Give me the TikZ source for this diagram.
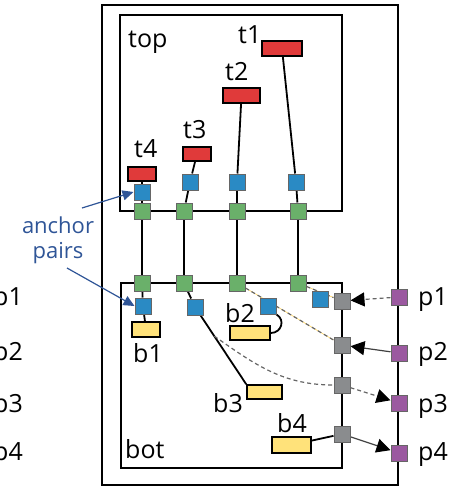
\documentclass[tikz,border=0pt]{standalone}
\usepackage{fontspec}
\setmainfont{Open Sans}
\usetikzlibrary{arrows.meta,backgrounds}

\definecolor{sigred}{HTML}{E03A3A}
\definecolor{sigyellow}{HTML}{FFE27A}
\definecolor{anchblue}{HTML}{2A8AC4}
\definecolor{anchgreen}{HTML}{6AB06A}
\definecolor{portgray}{HTML}{8A8C8E}
\definecolor{portpurple}{HTML}{9B59A0}
\definecolor{noteblue}{HTML}{2F5597}

\tikzset{
  box/.style={draw, line width=2pt},
  sq/.style={draw=black!60, line width=1pt, minimum size=16pt, inner sep=0pt},
  sig/.style={draw, line width=1.6pt, inner sep=0pt, minimum height=14pt},
  lbl/.style={anchor=base west, inner sep=0pt, font=\fontsize{25}{30}\selectfont},
  wire/.style={line width=1.8pt},
  thin wire/.style={line width=1.2pt, draw=black!75},
  dashwire/.style={line width=1.2pt, draw=black!60, dash pattern=on 4pt off 3pt},
  route/.style={dashwire, preaction={draw=sigyellow!90!orange, solid, line width=.7pt}},
  bigtip/.style={-{Triangle[length=14pt,width=14pt,color=black]}},
}

\begin{document}
\begin{tikzpicture}[x=1pt,y=-1pt]
    \useasboundingbox (0,0) rectangle (457,488);

    % hierarchy
    \draw[box] (102,5) rectangle (398,485);
    \draw[box] (120,15) rectangle (342,211);
    \draw[box] (121,283) rectangle (342,468);
    \node[lbl] (top) at (128,47) {top};
    \node[lbl] (bot) at (125,458) {bot};

    % signals of top
    \node[sig, fill=sigred, minimum width=40pt, minimum height=15pt] (t1) at (282,48.5) {};
    \node[sig, fill=sigred, minimum width=37pt, minimum height=15pt] (t2) at (241.5,95.5) {};
    \node[sig, fill=sigred, minimum width=28pt] (t3) at (197,154) {};
    \node[sig, fill=sigred, minimum width=28pt] (t4) at (142,174) {};
    \node[lbl] (lt1) at (238,43) {t1}; \node[lbl] (lt2) at (225,80) {t2};
    \node[lbl] (lt3) at (183,138) {t3}; \node[lbl] (lt4) at (134,157) {t4};

    \node[sq, fill=anchblue] (tb1) at (296,182) {}; \node[sq, fill=anchblue] (tb2) at (237,182) {};
    \node[sq, fill=anchblue] (tb3) at (190,182) {}; \node[sq, fill=anchblue] (tb4) at (142,192) {};
    \node[sq, fill=anchgreen] (tg1) at (298,211) {}; \node[sq, fill=anchgreen] (tg2) at (237,211) {};
    \node[sq, fill=anchgreen] (tg3) at (184,211) {}; \node[sq, fill=anchgreen] (tg4) at (142,211) {};

    % signals of bot
    \node[sq, fill=anchgreen] (bg1) at (298,283) {}; \node[sq, fill=anchgreen] (bg2) at (237,283) {};
    \node[sq, fill=anchgreen] (bg3) at (184,283) {}; \node[sq, fill=anchgreen] (bg4) at (142,283) {};
    \node[sq, fill=anchblue] (bb1) at (143,306) {}; \node[sq, fill=anchblue] (bb3) at (195,307) {};
    \node[sq, fill=anchblue] (bb2) at (268,306) {}; \node[sq, fill=anchblue] (bbx) at (320,299) {};

    \node[sig, fill=sigyellow, minimum width=28pt, minimum height=15pt] (b1) at (146,329.5) {};
    \node[sig, fill=sigyellow, minimum width=40pt] (b2) at (250,333) {};
    \node[sig, fill=sigyellow, minimum width=35pt] (b3) at (264.5,392) {};
    \node[sig, fill=sigyellow, minimum width=39pt, minimum height=16pt] (b4) at (291.5,445) {};
    \node[lbl] (lb1) at (133,362) {b1}; \node[lbl] (lb2) at (225,322) {b2};
    \node[lbl] (lb3) at (213,412) {b3}; \node[lbl] (lb4) at (277,432) {b4};

    % ports
    \foreach \i/\y in {1/301,2/345,3/385,4/434}
        \node[sq, fill=portgray] (g\i) at (342,\y) {};
    \foreach \i/\y/\b in {1/297/305,2/353/360,3/403/412,4/453/460} {
        \node[sq, fill=portpurple] (p\i) at (399,\y) {};
        \node[lbl] (lp\i) at (418,\b) {p\i};
        \node[lbl] (rp\i) at (-7,\b) {p\i};
    }

    % anchor pairs note
    \node[align=center, text=noteblue, font=\fontsize{22}{25}\selectfont] (pairs) at (58,240) {anchor\\pairs};
    \coordinate (n1) at (82,208);
    \coordinate (n2) at (67,268);
    \draw[noteblue, line width=1.2pt, -{Triangle[length=11pt,width=10pt]}] (n1) -- (tb4.west);
    \draw[noteblue, line width=1.2pt, -{Triangle[length=11pt,width=10pt]}] (n2) -- (bb1.west);

    \begin{pgfonlayer}{background}
        \draw[wire] (t1) -- (tb1); \draw[wire] (t2) -- (tb2); \draw[wire] (t3) -- (tb3); \draw[wire] (t4) -- (tb4);
        \draw[wire] (tb1) -- (tg1); \draw[wire] (tb2) -- (tg2); \draw[wire] (tb3) -- (tg3); \draw[wire] (tb4) -- (tg4);
        \draw[wire] (tg1) -- (bg1); \draw[wire] (tg2) -- (bg2); \draw[wire] (tg3) -- (bg3); \draw[wire] (tg4) -- (bg4);
        \draw[wire] (bg4) -- (bb1); \draw[wire] (bb1) -- (b1);
        \draw[wire] (bg3) -- (bb3); \draw[wire] (bb3) -- (b3.north west) coordinate[pos=.3] (split);
        \draw[wire] (bb2.south east) to[out=-30,in=0,looseness=1.4] (b2.east);
        \draw[wire] (b4) -- (g4);
        \draw[route] (bg1) -- (g1);
        \draw[route] (bg2) -- (g2);
        \draw[dashwire] (split) to[out=-35,in=180] (g3);
        \draw[dashwire, bigtip] (p1) -- (g1);
        \draw[thin wire, bigtip] (p2) -- (g2);
        \draw[dashwire, bigtip] (g3) -- (p3);
        \draw[thin wire, bigtip] (g4) -- (p4);
    \end{pgfonlayer}
\end{tikzpicture}
\end{document}
